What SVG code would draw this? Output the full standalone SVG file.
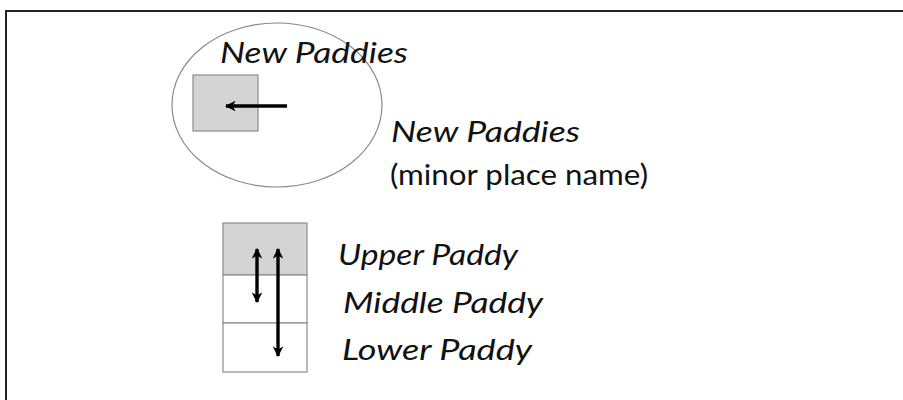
<svg xmlns="http://www.w3.org/2000/svg" width="903" height="400" viewBox="0 0 903 400">
<style>
.lbl{font-family:Lato,"Open Sans","Liberation Sans",sans-serif;font-size:29px;fill:#111;}
.it{font-style:italic;}
.cell{stroke:#8c8c8c;stroke-width:1.2;}
.conn{stroke:#000;stroke-width:3.4;fill:none;}
</style>
<defs>
<marker id="ah" viewBox="0 0 10 10" refX="9" refY="5" markerWidth="3.2" markerHeight="3.2" orient="auto-start-reverse" markerUnits="strokeWidth">
<path d="M0,0 L10,5 L0,10 L3,5 z" fill="#000"/>
</marker>
</defs>
<rect width="903" height="400" fill="#fff"/>
<path d="M6,400 V11 H903" fill="none" stroke="#222" stroke-width="2"/>
<g id="new-paddies-area">
<ellipse cx="277" cy="105" rx="105" ry="82" fill="none" stroke="#8a8a8a" stroke-width="1.2"/>
<rect id="new-paddy" class="cell" x="193" y="75" width="65" height="56" fill="#d4d4d4"/>
<text class="lbl it" x="220" y="63" textLength="188" lengthAdjust="spacingAndGlyphs">New Paddies</text>
</g>
<g id="place-name">
<text class="lbl it" x="391" y="142" textLength="189" lengthAdjust="spacingAndGlyphs">New Paddies</text>
<text class="lbl" x="390" y="185" textLength="258" lengthAdjust="spacingAndGlyphs">(minor place name)</text>
</g>
<g id="upper-paddy">
<rect class="cell" x="223" y="223" width="84" height="52" fill="#d4d4d4"/>
<text class="lbl it" x="338" y="265" textLength="180" lengthAdjust="spacingAndGlyphs">Upper Paddy</text>
</g>
<g id="middle-paddy">
<rect class="cell" x="223" y="275" width="84" height="48" fill="#fff"/>
<text class="lbl it" x="343" y="313" textLength="200" lengthAdjust="spacingAndGlyphs">Middle Paddy</text>
</g>
<g id="lower-paddy">
<rect class="cell" x="223" y="323" width="84" height="49" fill="#fff"/>
<text class="lbl it" x="342" y="360" textLength="190" lengthAdjust="spacingAndGlyphs">Lower Paddy</text>
</g>
<g id="connectors">
<line class="conn" x1="287" y1="106" x2="226" y2="106" marker-end="url(#ah)"/>
<line class="conn" x1="257" y1="249" x2="257" y2="302" marker-start="url(#ah)" marker-end="url(#ah)"/>
<line class="conn" x1="278" y1="249" x2="278" y2="356" marker-start="url(#ah)" marker-end="url(#ah)"/>
</g>
</svg>
